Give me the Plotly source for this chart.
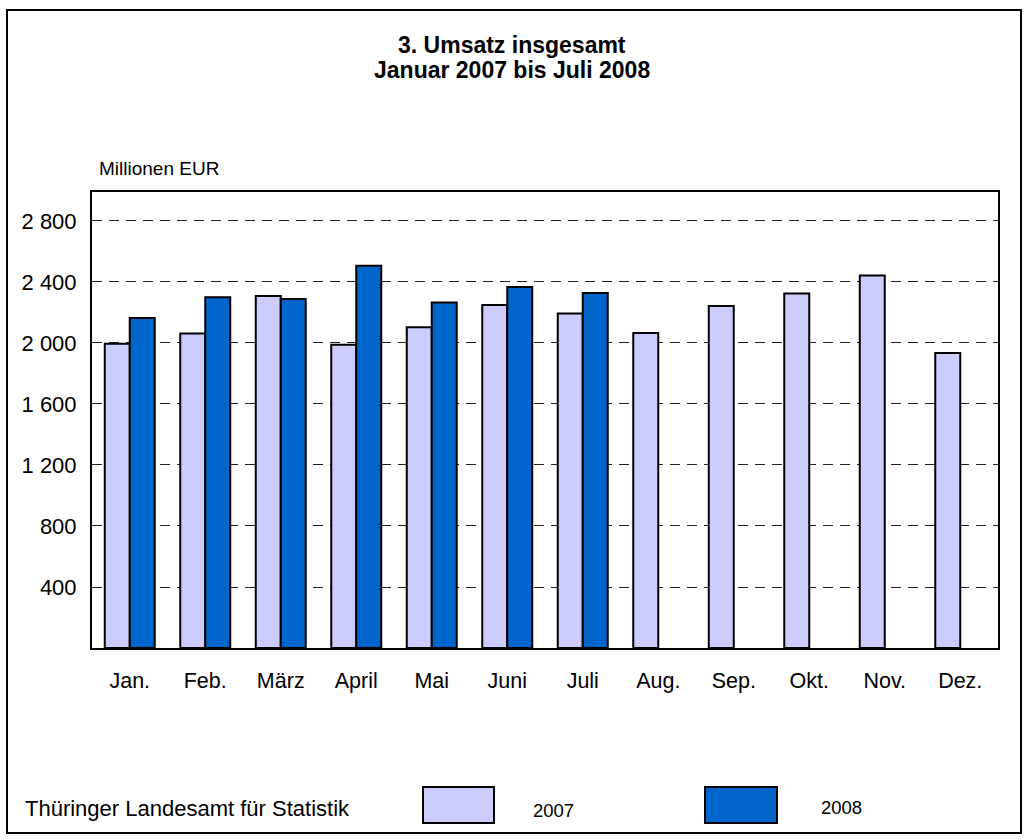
import plotly.graph_objects as go

months = ["Jan.", "Feb.", "März", "April", "Mai", "Juni", "Juli",
          "Aug.", "Sep.", "Okt.", "Nov.", "Dez."]
umsatz_2007 = [1995, 2062, 2308, 1989, 2103, 2249, 2193, 2065, 2243, 2324, 2442, 1934]
umsatz_2008 = [2164, 2300, 2288, 2507, 2265, 2367, 2328, None, None, None, None, None]
y_tickvals = [400, 800, 1200, 1600, 2000, 2400, 2800]
y_ticktext = ["400", "800", "1 200", "1 600", "2 000", "2 400", "2 800"]

FONT = "Liberation Sans, Arial, sans-serif"
C2007 = "#CCCCFF"
C2008 = "#0066CC"

W, H = 1025, 839
L, R, T, B = 92, 27, 192, 191
PW = W - L - R
PH = H - T - B


def px(x):
    return (x - L) / PW


def py(y):
    return (H - B - y) / PH


fig = go.Figure()
fig.add_trace(go.Bar(x=months, y=umsatz_2007, name="2007",
                     marker=dict(color=C2007, line=dict(color="black", width=2))))
fig.add_trace(go.Bar(x=months, y=umsatz_2008, name="2008",
                     marker=dict(color=C2008, line=dict(color="black", width=2))))

fig.update_layout(
    width=W, height=H,
    margin=dict(l=L, r=R, t=T, b=B, autoexpand=False),
    paper_bgcolor="white", plot_bgcolor="white",
    barmode="group", bargap=0.338, bargroupgap=0,
    showlegend=False,
    font=dict(family=FONT, color="black"),
    xaxis=dict(showline=True, mirror=True, linecolor="black", linewidth=2,
               showgrid=False, ticks="", tickfont=dict(size=21.5),
               ticklabelstandoff=12),
    yaxis=dict(range=[0, 2990], showline=True, mirror=True, linecolor="black",
               linewidth=2, tickvals=y_tickvals, ticktext=y_ticktext,
               tickfont=dict(size=22), ticks="", ticklabelstandoff=9,
               showgrid=True, gridcolor="#222222", gridwidth=1,
               griddash="10px,7px", zeroline=False),
)

shapes = [
    dict(type="rect", xref="paper", yref="paper",
         x0=px(7), x1=px(1021), y0=py(833), y1=py(10),
         line=dict(color="black", width=2), fillcolor="rgba(0,0,0,0)", layer="below"),
    dict(type="rect", xref="paper", yref="paper",
         x0=px(423), x1=px(494), y0=py(823), y1=py(787),
         line=dict(color="black", width=2), fillcolor=C2007),
    dict(type="rect", xref="paper", yref="paper",
         x0=px(705), x1=px(777), y0=py(823), y1=py(787),
         line=dict(color="black", width=2), fillcolor=C2008),
]
fig.update_layout(shapes=shapes)

annotations = [
    dict(text="<b>3. Umsatz insgesamt</b>", x=px(512), y=py(45),
         font=dict(size=23)),
    dict(text="<b>Januar 2007 bis Juli 2008</b>", x=px(512), y=py(70),
         font=dict(size=23)),
    dict(text="Millionen EUR", x=px(97), y=py(168), xanchor="left",
         font=dict(size=19)),
    dict(text="Thüringer Landesamt für Statistik", x=px(23), y=py(808),
         xanchor="left", font=dict(size=22)),
    dict(text="2007", x=px(531), y=py(810), xanchor="left", font=dict(size=18.5)),
    dict(text="2008", x=px(819), y=py(807), xanchor="left", font=dict(size=18.5)),
]
for a in annotations:
    a.setdefault("xanchor", "center")
    a.update(xref="paper", yref="paper", yanchor="middle", showarrow=False)
fig.update_layout(annotations=annotations)

fig.write_html("out.html",
               config={"displayModeBar": False},
               post_script="document.body.style.margin='0';document.body.style.overflow='hidden';")
